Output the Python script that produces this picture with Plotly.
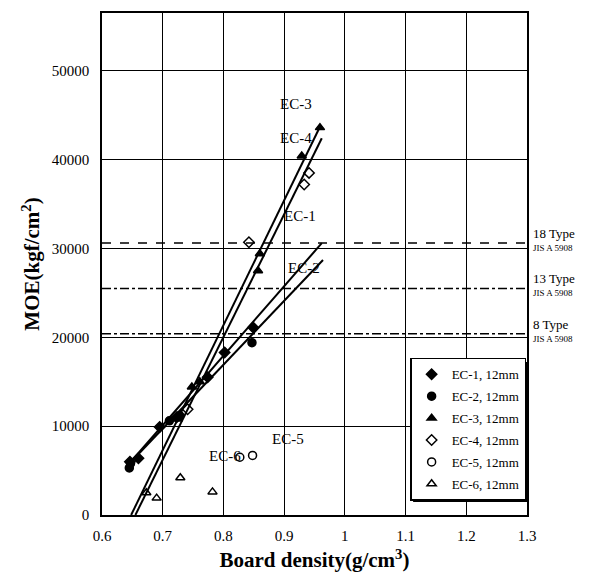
import plotly.graph_objects as go

# ---- data ----
ec1_x = [0.646, 0.66, 0.695, 0.723, 0.774, 0.802, 0.849]
ec1_y = [6000, 6400, 9900, 11000, 15500, 18300, 21100]
ec2_x = [0.645, 0.647, 0.711, 0.728, 0.847]
ec2_y = [5300, 5800, 10600, 11200, 19400]
ec3_x = [0.725, 0.748, 0.761, 0.857, 0.86, 0.929, 0.959]
ec3_y = [10800, 14400, 15000, 27500, 29400, 40400, 43600]
ec4_x = [0.741, 0.842, 0.933, 0.941]
ec4_y = [11900, 30700, 37200, 38500]
ec5_x = [0.827, 0.848]
ec5_y = [6500, 6700]
ec6_x = [0.673, 0.690, 0.729, 0.782]
ec6_y = [2500, 1900, 4200, 2600]

# regression line end points
fit1_x = [0.645, 0.962]
fit1_y = [5800, 30600]
fit2_x = [0.648, 0.964]
fit2_y = [6000, 28700]
fit3_x = [0.648, 0.959]
fit3_y = [0, 43700]
fit4_x = [0.655, 0.962]
fit4_y = [0, 42400]

# JIS A 5908 standard levels
std_names = ["18 Type", "13 Type", "8 Type"]
std_values = [30600, 25500, 20400]
std_dash = ["dash", "dashdot", "dashdot"]

x_ticks = [0.6, 0.7, 0.8, 0.9, 1.0, 1.1, 1.2, 1.3]
x_ticktext = ["0.6", "0.7", "0.8", "0.9", "1", "1.1", "1.2", "1.3"]
y_ticks = [0, 10000, 20000, 30000, 40000, 50000]
y_ticktext = ["0", "10000", "20000", "30000", "40000", "50000"]

series = [
    ("EC-1, 12mm", ec1_x, ec1_y, "diamond"),
    ("EC-2, 12mm", ec2_x, ec2_y, "circle"),
    ("EC-3, 12mm", ec3_x, ec3_y, "triangle-up"),
    ("EC-4, 12mm", ec4_x, ec4_y, "diamond-open"),
    ("EC-5, 12mm", ec5_x, ec5_y, "circle-open"),
    ("EC-6, 12mm", ec6_x, ec6_y, "triangle-up-open"),
]
fits = [(fit1_x, fit1_y), (fit2_x, fit2_y), (fit3_x, fit3_y), (fit4_x, fit4_y)]

curve_labels = ["EC-3", "EC-4", "EC-1", "EC-2", "EC-5", "EC-6"]
curve_label_x = [0.92, 0.92, 0.926, 0.933, 0.906, 0.802]
curve_label_y = [46300, 42400, 33700, 27800, 8500, 6600]

FONT = "Liberation Serif"

fig = go.Figure()

for v, d in zip(std_values, std_dash):
    fig.add_trace(go.Scatter(x=[0.6, 1.3], y=[v, v], mode="lines",
                             line=dict(color="black", width=1.5, dash=d),
                             showlegend=False, hoverinfo="skip"))

for fx, fy in fits:
    fig.add_trace(go.Scatter(x=fx, y=fy, mode="lines",
                             line=dict(color="black", width=2),
                             showlegend=False, hoverinfo="skip"))

for i, (name, xs, ys, sym) in enumerate(series):
    fig.add_trace(go.Scatter(x=xs, y=ys, mode="markers", name=name,
                             legendgroup="g%d" % i,
                             marker=dict(symbol=sym, size=8, color="black",
                                         line=dict(color="black", width=1.5))))

for t, lx, ly in zip(curve_labels, curve_label_x, curve_label_y):
    fig.add_annotation(x=lx, y=ly, text=t, showarrow=False,
                       font=dict(family=FONT, size=15, color="black"),
                       xanchor="center", yanchor="middle")

for n, v in zip(std_names, std_values):
    fig.add_annotation(x=1.0, xref="paper", y=v, yref="y", text=n,
                       showarrow=False, xanchor="left", yanchor="bottom",
                       xshift=4, yshift=0,
                       font=dict(family=FONT, size=13, color="black"))
    fig.add_annotation(x=1.0, xref="paper", y=v, yref="y", text="JIS A 5908",
                       showarrow=False, xanchor="left", yanchor="top",
                       xshift=4, yshift=2,
                       font=dict(family=FONT, size=9, color="black"))

# legend shadow (right / bottom thick edge)
fig.add_shape(type="rect", xref="paper", yref="paper",
              x0=0.732, x1=1.0, y0=0.026, y1=0.305,
              fillcolor="black", line=dict(width=0), layer="above")

fig.update_layout(
    width=599, height=579,
    margin=dict(l=102, r=72, t=11, b=64),
    paper_bgcolor="white", plot_bgcolor="white",
    font=dict(family=FONT, size=15, color="black"),
    legend=dict(x=0.725, y=0.313, xanchor="left", yanchor="top",
                bgcolor="white", bordercolor="black", borderwidth=1.5,
                font=dict(family=FONT, size=13, color="black"),
                itemwidth=30, tracegroupgap=2),
    xaxis=dict(range=[0.6, 1.3], tickvals=x_ticks, ticktext=x_ticktext,
               showgrid=True, gridcolor="black", gridwidth=1,
               showline=True, linecolor="black", linewidth=1.5, mirror=True,
               zeroline=False, ticks="", ticklabelstandoff=6,
               tickfont=dict(family=FONT, size=15),
               title=dict(text="<b>Board density(g/cm<sup>3</sup>)</b>",
                          font=dict(family=FONT, size=21), standoff=10)),
    yaxis=dict(range=[0, 56500], tickvals=y_ticks, ticktext=y_ticktext,
               showgrid=True, gridcolor="black", gridwidth=1,
               showline=True, linecolor="black", linewidth=1.5, mirror=True,
               zeroline=False, ticks="", ticklabelstandoff=8,
               tickfont=dict(family=FONT, size=15),
               title=dict(text="<b>MOE(kgf/cm<sup>2</sup>)</b>",
                          font=dict(family=FONT, size=21), standoff=6)),
)

fig.write_html("out.html")
